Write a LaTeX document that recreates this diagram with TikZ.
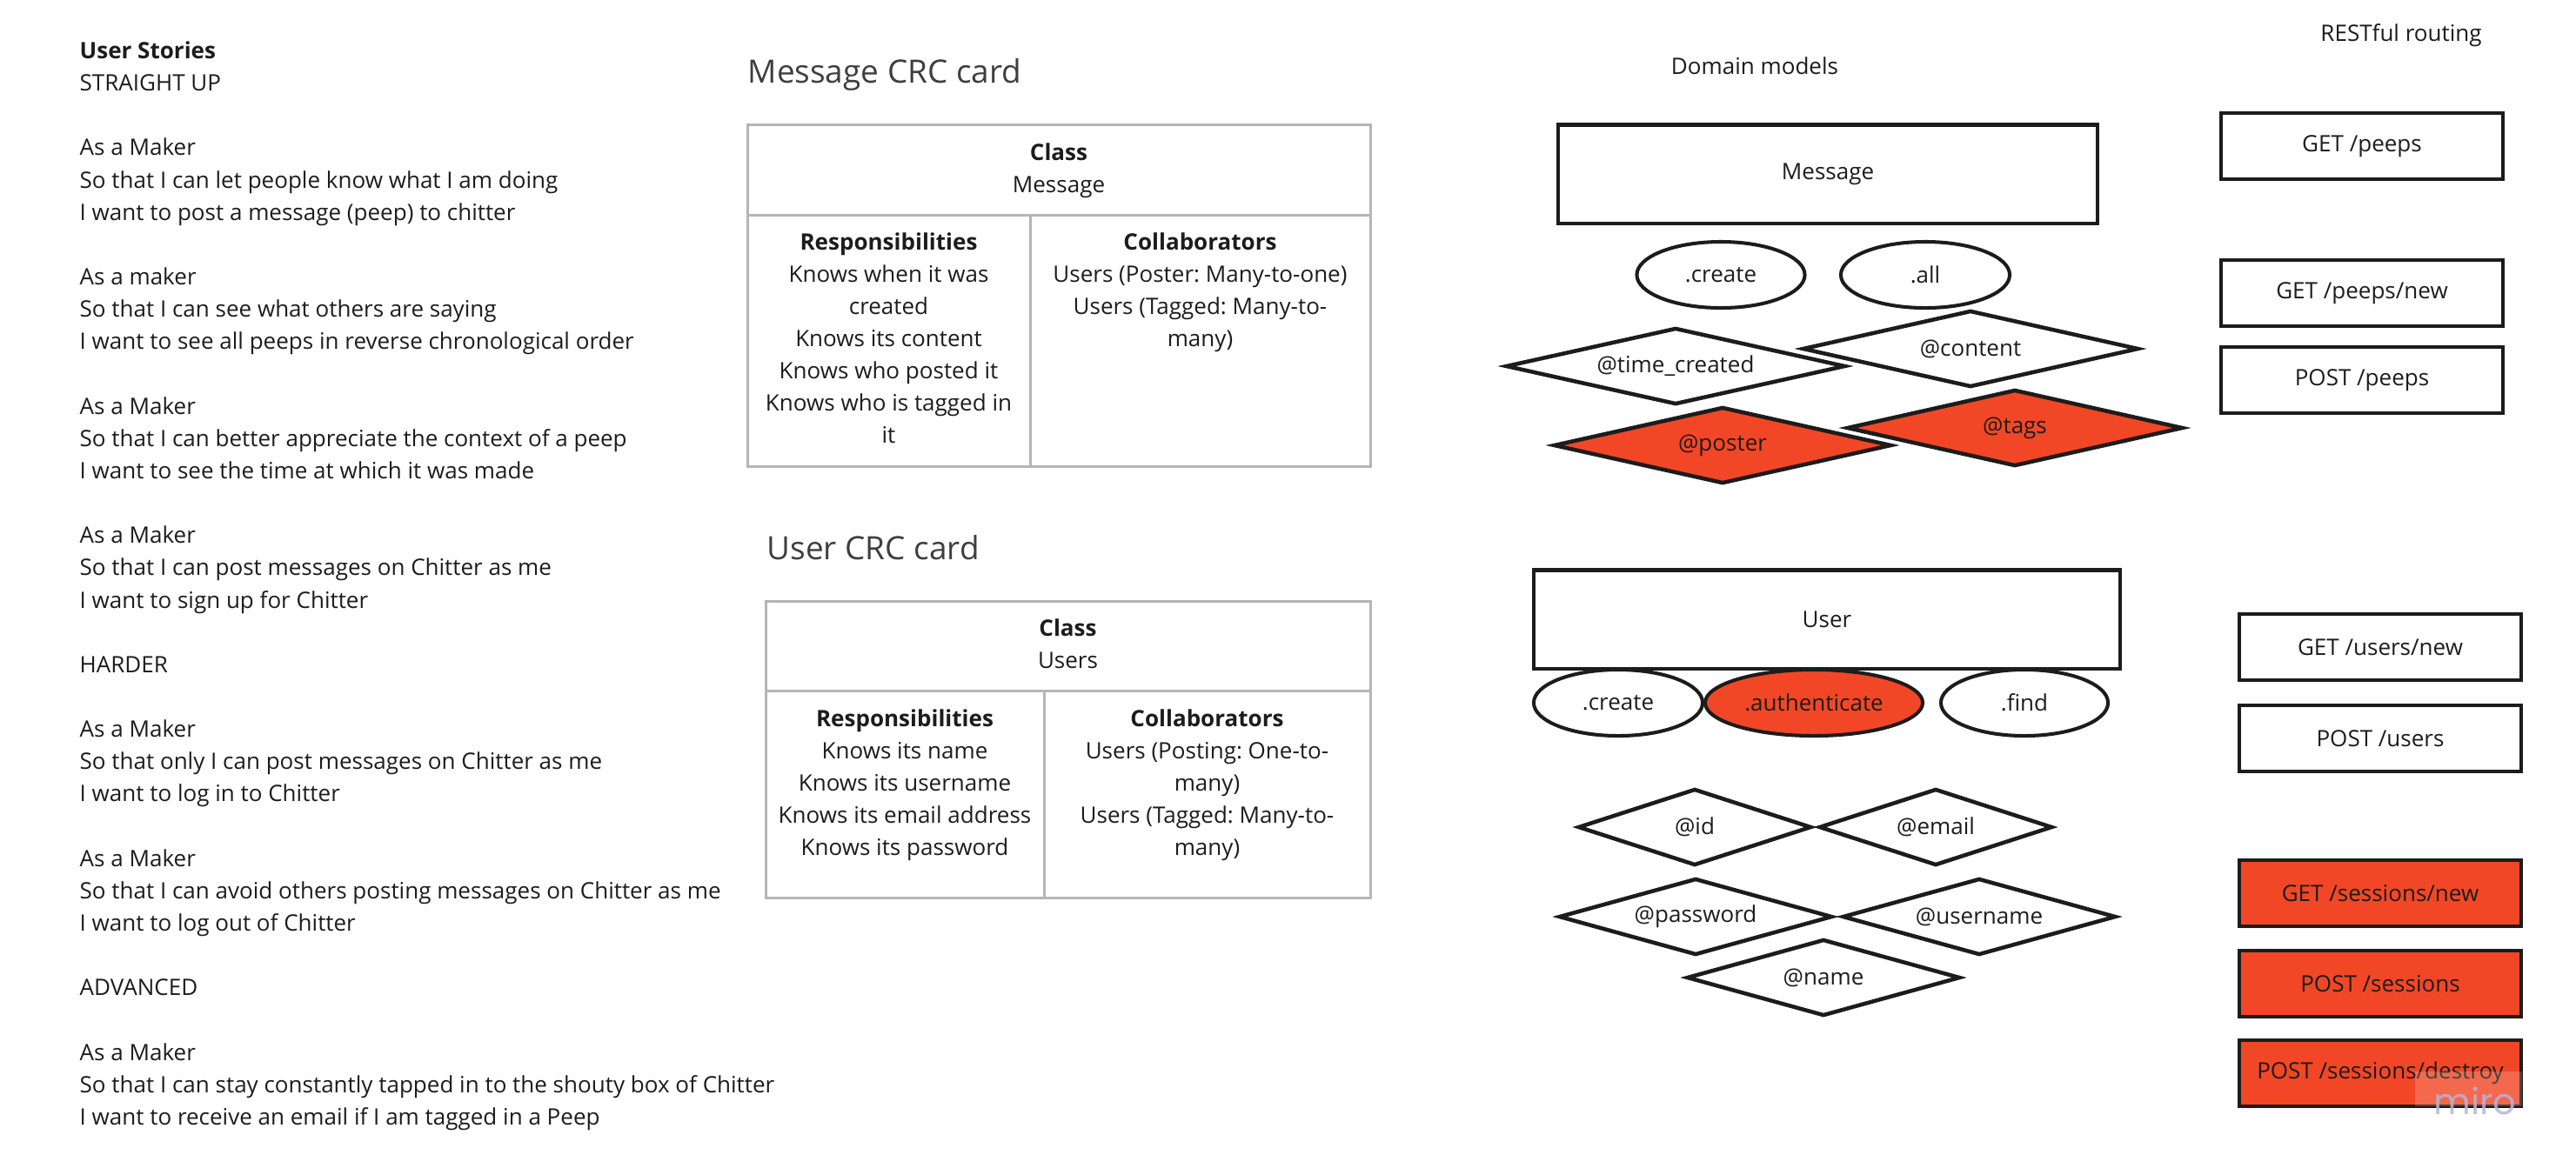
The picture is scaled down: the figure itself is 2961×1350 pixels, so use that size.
\documentclass[tikz,border=0pt]{standalone}
\usepackage{fontspec}
\setmainfont{Open Sans}
\newfontfamily\wmfont{Poppins}
\usetikzlibrary{shapes.geometric}
\definecolor{miroRed}{HTML}{F24726}
\definecolor{ink}{HTML}{1C1C1C}
\definecolor{cardGrey}{HTML}{B5B5B5}
\definecolor{wmark}{HTML}{B8B4D4}
\frenchspacing
\tikzset{
  txt/.style={inner sep=0pt,text=ink,font=\fontsize{7.4}{10.5}\selectfont},
  story/.style={txt,anchor=base west},
  cell/.style={txt,anchor=base},
  heading/.style={inner sep=0pt,text=ink!85,anchor=base west,font=\fontsize{10.5}{12}\selectfont},
  model/.style={txt,draw=ink,line width=1.15pt,rectangle,minimum height=1.13cm},
  meth/.style={txt,draw=ink,line width=1.15pt,ellipse,minimum height=0.76cm},
  attr/.style={txt,draw=ink,line width=1.3pt,diamond,aspect=4.5,minimum height=0.88cm},
  route/.style={txt,draw=ink,line width=1.15pt,rectangle,minimum width=3.24cm,minimum height=0.76cm},
  hot/.style={fill=miroRed}
}
\begin{document}
\frenchspacing
\begin{tikzpicture}[x=0.01cm,y=-0.01cm]% 1 unit = 1 pixel of the board
	\def\lh{37.15}
	\useasboundingbox (0,0) rectangle (2961,1350);
	% user stories
	\foreach \n/\t in {0/{\bfseries User Stories},1/STRAIGHT UP,
		3/As a Maker,4/So that I can let people know what I am doing,5/I want to post a message (peep) to chitter,
		7/As a maker,8/So that I can see what others are saying,9/I want to see all peeps in reverse chronological order,
		11/As a Maker,12/So that I can better appreciate the context of a peep,13/I want to see the time at which it was made,
		15/As a Maker,16/So that I can post messages on Chitter as me,17/I want to sign up for Chitter,
		19/HARDER,
		21/As a Maker,22/So that only I can post messages on Chitter as me,23/I want to log in to Chitter,
		25/As a Maker,26/So that I can avoid others posting messages on Chitter as me,27/I want to log out of Chitter,
		29/ADVANCED,
		31/As a Maker,32/So that I can stay constantly tapped in to the shouty box of Chitter,33/I want to receive an email if I am tagged in a Peep}
	\node[story] (story\n) at (91,{67.5+\lh*\n}) {\t};
	
	% Message CRC card
	\node[heading] (msgTitle) at (859,95.5) {Message CRC card};
	\draw[cardGrey,line width=0.85pt] (859,143) rectangle (1575,536)
	(859,247) -- (1575,247) (1184,247) -- (1184,536);
	\node[cell] (msgClass) at (1217,184.5) {\bfseries Class};
	\node[cell] (msgName) at (1217,221.5) {Message};
	\foreach \t [count=\i from 0] in {{\bfseries Responsibilities},Knows when it was,created,Knows its content,Knows who posted it,Knows who is tagged in,it}
	\node[cell] (msgResp\i) at (1021.5,{287.5+37*\i}) {\t};
	\foreach \t [count=\i from 0] in {{\bfseries Collaborators},Users (Poster: Many-to-one),Users (Tagged: Many-to-,many)}
	\node[cell] (msgColl\i) at (1379.5,{287.5+37*\i}) {\t};
	
	% User CRC card
	\node[heading] (usrTitle) at (881,643.5) {User CRC card};
	\draw[cardGrey,line width=0.85pt] (880,691) rectangle (1575,1032)
	(880,794) -- (1575,794) (1200,794) -- (1200,1032);
	\node[cell] (usrClass) at (1227.5,731.5) {\bfseries Class};
	\node[cell] (usrName) at (1227.5,768.5) {Users};
	\foreach \t [count=\i from 0] in {{\bfseries Responsibilities},Knows its name,Knows its username,Knows its email address,Knows its password}
	\node[cell] (usrResp\i) at (1040,{835.5+37*\i}) {\t};
	\foreach \t [count=\i from 0] in {{\bfseries Collaborators},Users (Posting: One-to-,many),Users (Tagged: Many-to-,many)}
	\node[cell] (usrColl\i) at (1387.5,{835.5+37*\i}) {\t};
	
	% domain models
	\node[cell] (dmTitle) at (2017,85.5) {Domain models};
	\node[model,minimum width=6.2cm] (msgModel) at (2101,200) {Message};
	\node[meth,minimum width=1.93cm] (msgCreate) at (1978,316) {.create};
	\node[meth,minimum width=1.94cm] (msgAll) at (2213,316) {.all};
	\node[attr,minimum width=3.9cm] (msgTime) at (1926,421) {@time\_created};
	\node[attr,minimum width=3.86cm] (msgContent) at (2265,401) {@content};
	\node[attr,hot,minimum width=3.88cm] (msgPoster) at (1980,512) {@poster};
	\node[attr,hot,minimum width=3.86cm] (msgTags) at (2316,492) {@tags};
	
	\node[model,minimum width=6.73cm] (usrModel) at (2100,712) {User};
	\node[meth,minimum width=1.94cm] (usrCreate) at (1860,808) {.create};
	\node[meth,hot,minimum width=2.5cm] (usrAuth) at (2085,808) {.authenticate};
	\node[meth,minimum width=1.92cm] (usrFind) at (2327,808) {.find};
	\node[attr,minimum width=2.68cm] (usrId) at (1948,951) {@id};
	\node[attr,minimum width=2.68cm] (usrEmail) at (2225,951) {@email};
	\node[attr,minimum width=3.14cm] (usrPass) at (1949,1054) {@password};
	\node[attr,minimum width=3.14cm] (usrUsername) at (2275,1054) {@username};
	\node[attr,minimum width=3.14cm] (usrNameAttr) at (2096,1124) {@name};
	
	% RESTful routing
	\node[cell] (rtTitle) at (2760,47.5) {RESTful routing};
	\node[route] (rtPeeps) at (2715,168) {GET /peeps};
	\node[route] (rtPeepsNew) at (2715,337) {GET /peeps/new};
	\node[route] (rtPeepsPost) at (2715,437) {POST /peeps};
	\node[route] (rtUsersNew) at (2736,744) {GET /users/new};
	\node[route] (rtUsersPost) at (2736,849) {POST /users};
	\node[route,hot] (rtSessNew) at (2736,1027) {GET /sessions/new};
	\node[route,hot] (rtSessPost) at (2736,1131) {POST /sessions};
	\node[route,hot] (rtSessDel) at (2736,1234) {POST /sessions/destroy};
	
	% board watermark
	\fill[white,opacity=0.18] (2776,1232) rectangle (2899,1272);
	\node[inner sep=0pt,anchor=base,text=wmark,opacity=0.85,font=\wmfont\fontsize{11.8}{12}\selectfont] (miro) at (2845,1281) {miro};
\end{tikzpicture}
\end{document}
